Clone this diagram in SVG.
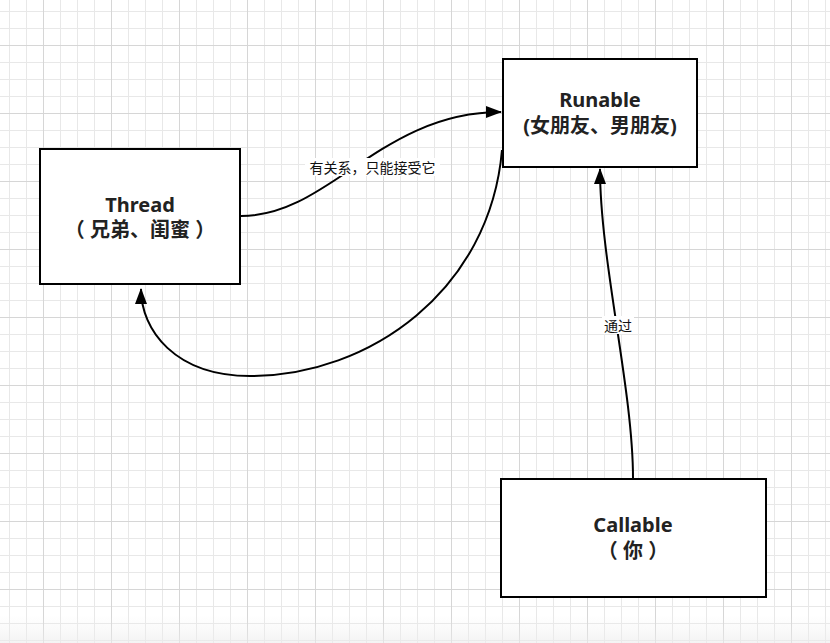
<svg xmlns="http://www.w3.org/2000/svg" width="830" height="643" viewBox="0 0 830 643">
  <style>
    .box { fill: #ffffff; stroke: #000000; stroke-width: 2; }
    .title { font-family: "Noto Sans", "Noto Sans CJK SC", sans-serif; font-weight: bold; font-size: 20px; fill: #222222; text-anchor: middle; }
    .edge { fill: none; stroke: #000000; stroke-width: 2; }
    .lbl { font-family: "Noto Sans CJK SC", sans-serif; font-size: 14px; fill: #111111; text-anchor: middle; }
    .lblbg { fill: #ffffff; }
  </style>
  <defs>
    <pattern id="grid" patternUnits="userSpaceOnUse" x="43" y="45" width="68" height="68">
      <rect x="0" y="0" width="68" height="68" fill="#ffffff"/>
      <rect x="17" y="0" width="1" height="68" fill="#e8e8e8"/>
      <rect x="34" y="0" width="1" height="68" fill="#e8e8e8"/>
      <rect x="51" y="0" width="1" height="68" fill="#e8e8e8"/>
      <rect x="0" y="17" width="68" height="1" fill="#e8e8e8"/>
      <rect x="0" y="34" width="68" height="1" fill="#e8e8e8"/>
      <rect x="0" y="51" width="68" height="1" fill="#e8e8e8"/>
      <rect x="0" y="0" width="1" height="68" fill="#d6d6d6"/>
      <rect x="0" y="0" width="68" height="1" fill="#d6d6d6"/>
    </pattern>
    <linearGradient id="bottomfade" x1="0" y1="0" x2="0" y2="1">
      <stop offset="0" stop-color="#f0f0f0" stop-opacity="0"/>
      <stop offset="1" stop-color="#ececec" stop-opacity="0.6"/>
    </linearGradient>
    <marker id="arrow" markerUnits="userSpaceOnUse" markerWidth="16" markerHeight="12" viewBox="0 0 16 12" refX="15" refY="6" orient="auto">
      <path d="M0,0 L16,6 L0,12 Z" fill="#000000"/>
    </marker>
  </defs>

  <rect x="0" y="0" width="830" height="643" fill="url(#grid)"/>
  <rect x="0" y="615" width="830" height="28" fill="url(#bottomfade)"/>

  <g id="connectors">
    <path class="edge" d="M241,216 C330,216 380,112 501,112" marker-end="url(#arrow)"/>
    <path class="edge" d="M502,150 C490,290 370,376 250,376 C175,376 141,330 141,289" marker-end="url(#arrow)"/>
    <path class="edge" d="M633,478 C633,390 600,260 600,169" marker-end="url(#arrow)"/>
    <g id="edge-labels">
      <rect class="lblbg" x="305" y="158" width="135" height="18"/>
      <text class="lbl" x="372.5" y="172.5">有关系，只能接受它</text>
      <rect class="lblbg" x="602" y="316" width="32" height="18"/>
      <text class="lbl" x="618" y="330.5">通过</text>
    </g>
  </g>

  <g id="node-thread">
    <rect class="box" x="40" y="149" width="200" height="135"/>
    <text class="title" x="140" y="212">Thread</text>
    <text class="title" x="140" y="237">（ 兄弟、闺蜜 ）</text>
  </g>

  <g id="node-runable">
    <rect class="box" x="503" y="59" width="194" height="108"/>
    <text class="title" x="600" y="107">Runable</text>
    <text class="title" x="600" y="133">(女朋友、男朋友)</text>
  </g>

  <g id="node-callable">
    <rect class="box" x="501" y="479" width="265" height="118"/>
    <text class="title" x="633" y="532">Callable</text>
    <text class="title" x="633" y="558">（ 你 ）</text>
  </g>
</svg>
